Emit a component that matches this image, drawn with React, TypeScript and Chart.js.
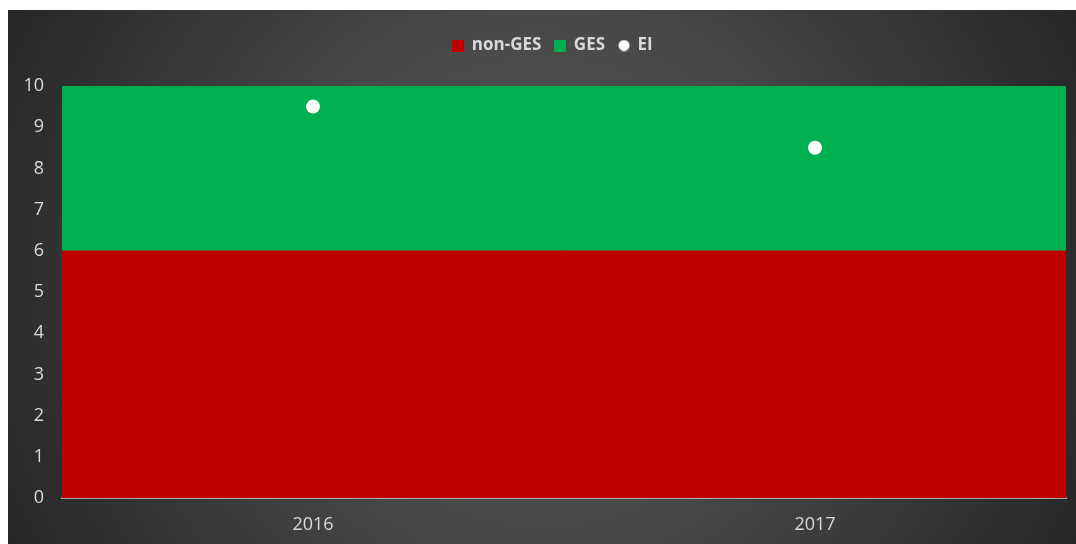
import React, { useEffect, useRef } from "react";
import { Chart, registerables } from "chart.js";

Chart.register(...registerables);

const categories = ["2016", "2017"];
const nonGES = [6, 6];
const GES = [4, 4];
const EI = [9.5, 8.5];
const yTicks = [0, 1, 2, 3, 4, 5, 6, 7, 8, 9, 10];

const W = 1068;
const H = 534;

function makeIcon(kind: "rect" | "circle", color: string): HTMLCanvasElement {
  const c = document.createElement("canvas");
  c.width = 12;
  c.height = 12;
  const ctx = c.getContext("2d")!;
  ctx.fillStyle = color;
  if (kind === "rect") {
    ctx.fillRect(0, 0, 12, 12);
  } else {
    ctx.beginPath();
    ctx.arc(6, 6, 5.5, 0, Math.PI * 2);
    ctx.fill();
  }
  return c;
}

const bgPlugin = {
  id: "bgGradient",
  beforeDraw(chart: any) {
    const { ctx, width, height } = chart;
    ctx.save();
    const cx = width / 2;
    const cy = height / 2;
    const g = ctx.createRadialGradient(cx, cy, 0, cx, cy, 600);
    g.addColorStop(0, "#575757");
    g.addColorStop(0.4, "#4a4a4a");
    g.addColorStop(1, "#262626");
    ctx.fillStyle = g;
    ctx.fillRect(0, 0, width, height);
    ctx.restore();
  },
};

const legendHeightPlugin = {
  id: "legendHeight",
  beforeInit(chart: any) {
    const origFit = chart.legend.fit;
    chart.legend.fit = function () {
      origFit.bind(chart.legend)();
      this.height = 63;
    };
  },
  afterLayout(chart: any) {
    if (chart.legend) {
      chart.legend.left += 32;
    }
  },
};

export default function App() {
  const ref = useRef<HTMLCanvasElement | null>(null);

  useEffect(() => {
    if (!ref.current) return;
    const icons = [
      makeIcon("rect", "#c00000"),
      makeIcon("rect", "#00b050"),
      makeIcon("circle", "#ffffff"),
    ];
    const chart = new Chart(ref.current, {
      type: "bar",
      data: {
        labels: categories,
        datasets: [
          {
            type: "bar",
            label: "non-GES",
            data: nonGES,
            backgroundColor: "#c00000",
            borderWidth: 0,
            stack: "main",
            order: 2,
          },
          {
            type: "bar",
            label: "GES",
            data: GES,
            backgroundColor: "#00b050",
            borderWidth: 0,
            stack: "main",
            order: 2,
          },
          {
            type: "line",
            label: "EI",
            data: EI,
            showLine: false,
            pointStyle: "circle",
            pointRadius: 7,
            pointHoverRadius: 7,
            pointBackgroundColor: "#ffffff",
            pointBorderColor: "#ffffff",
            pointBorderWidth: 0,
            backgroundColor: "#ffffff",
            borderColor: "#ffffff",
            stack: "ei",
            order: 1,
          } as any,
        ],
      },
      options: {
        responsive: false,
        animation: false,
        layout: { padding: { left: 0, right: 10, top: 13, bottom: 0 } },
        datasets: {
          bar: { categoryPercentage: 1, barPercentage: 1 },
        } as any,
        plugins: {
          tooltip: { enabled: false },
          legend: {
            position: "top",
            align: "center",
            labels: {
              usePointStyle: true,
              boxWidth: 10,
              boxHeight: 12,
              padding: 14,
              color: "#d9d9d9",
              font: { family: "'Open Sans', sans-serif", size: 17, weight: "bold" },
              sort: (a: any, b: any) => a.datasetIndex - b.datasetIndex,
              generateLabels(c: any) {
                const items = (Chart.defaults.plugins.legend.labels as any).generateLabels(c);
                items.forEach((it: any) => {
                  it.pointStyle = icons[it.datasetIndex];
                });
                return items;
              },
            },
          },
        },
        scales: {
          x: {
            stacked: true,
            grid: { display: false, drawTicks: false },
            border: { display: true, color: "rgba(200,200,200,0.75)", width: 2 },
            ticks: {
              color: "#d9d9d9",
              padding: 16,
              font: { family: "'Open Sans', sans-serif", size: 18 },
            },
            afterFit(scale: any) {
              scale.height = 46;
            },
          },
          y: {
            stacked: true,
            min: 0,
            max: 10,
            grid: { display: false, drawTicks: false },
            border: { display: false },
            ticks: {
              stepSize: 1,
              color: "#d9d9d9",
              padding: 18,
              font: { family: "'Open Sans', sans-serif", size: 18 },
              callback: (v: any) => (yTicks.includes(Number(v)) ? String(v) : ""),
            },
            afterFit(scale: any) {
              scale.width = 54;
            },
          },
        },
      },
      plugins: [bgPlugin, legendHeightPlugin],
    });
    return () => chart.destroy();
  }, []);

  return (
    <div style={{ position: "fixed", left: 8, top: 10, width: W, height: H }}>
      <canvas ref={ref} width={W} height={H} style={{ display: "block" }} />
    </div>
  );
}
